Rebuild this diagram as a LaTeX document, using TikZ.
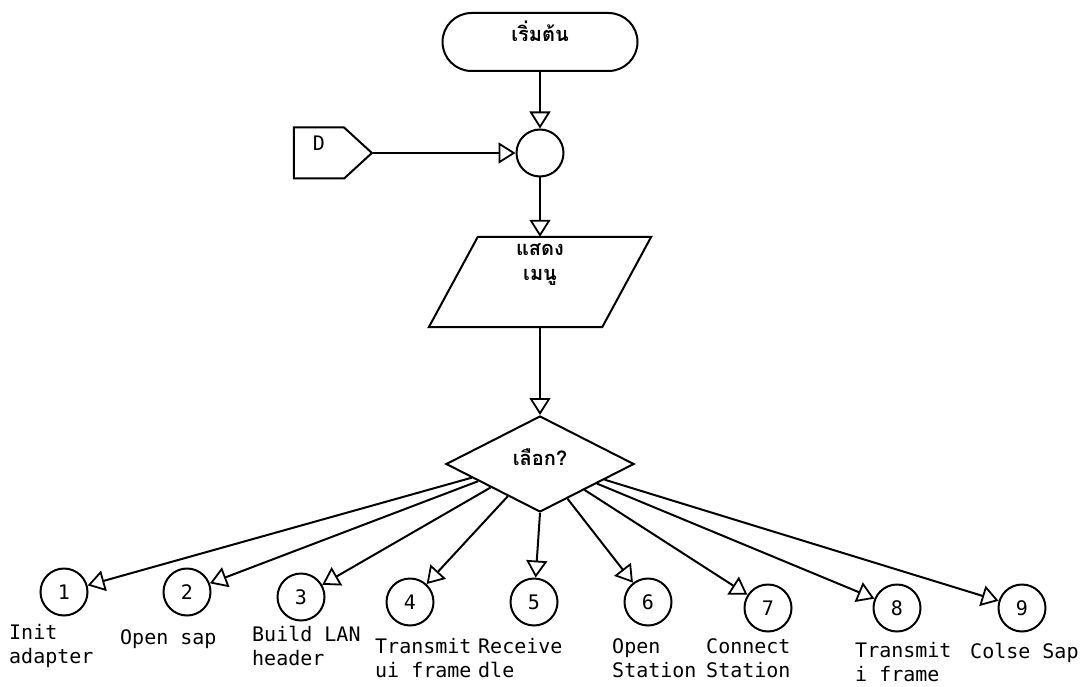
\documentclass[tikz,border=0pt]{standalone}
\usepackage{fontspec}
\setmainfont{DejaVu Sans Mono}
\newfontfamily\thaifont[Script=Thai]{Loma}
\usetikzlibrary{arrows.meta,shapes.geometric,shapes.symbols,calc}
\begin{document}
\begin{tikzpicture}[x=1pt,y=-1pt,
  every node/.style={font=\fontsize{20}{24}\selectfont, inner sep=0pt},
  ln/.style={line width=2pt},
  arr/.style={ln, -{Triangle[open, length=17pt, width=21pt, line width=1.8pt]}},
  term/.style={rectangle, rounded corners=29pt, draw, ln, minimum width=195pt, minimum height=58pt},
  sig/.style={signal, signal to=east, draw, ln, minimum width=78pt, minimum height=51pt, signal pointer angle=85},
  circ/.style={circle, draw, ln, minimum size=47pt},
  dia/.style={diamond, draw, ln, minimum width=188pt, minimum height=96pt},
  box/.style={rectangle, minimum width=173pt, minimum height=90pt},
  thai/.style={font=\thaifont\bfseries\fontsize{20}{25}\selectfont, align=center},
  lab/.style={anchor=west, align=left}
]
\useasboundingbox (0,0) rectangle (1083,687);

% top part
\node[term] (st) at (540,42) {};
\node[thai] (stt) at ([yshift=11pt]st.center) {เริ่มต้น};
\node[circ] (j) at (540,153) {};
\node[sig] (D) at (319,153) {};
\node (Dt) at ([yshift=10pt]D.center) {D};
\node[box] (m) at (540,282) {};
\draw[ln] ([xshift=24.5pt]m.north west) -- ([xshift=24.5pt]m.north east)
  -- ([xshift=-24.5pt]m.south east) -- ([xshift=-24.5pt]m.south west) -- cycle;
\node[thai] (mt) at ([yshift=17pt]m.center) {แสดง\\เมนู};
\node[dia] (d) at (540,464) {};
\node[thai] (dt) at ([yshift=7pt]d.center) {เลือก?};

\draw[arr] (st) -- (j);
\draw[arr] (D.east) -- (j);
\draw[arr] (j) -- (m.north);
\draw[arr] (m.south) -- (d.north);

% bottom circles
\node[circ] (c1) at (64,592) {1};
\node[circ] (c2) at (187,592) {2};
\node[circ] (c3) at (301,597) {3};
\node[circ] (c4) at (410,602) {4};
\node[circ] (c5) at (534,602) {5};
\node[circ] (c6) at (648,602) {6};
\node[circ] (c7) at (768,608) {7};
\node[circ] (c8) at (897,608) {8};
\node[circ] (c9) at (1022,608) {9};

\draw[arr] ($(d.west)!0.28!(d.south)$) -- (c1);
\draw[arr] ($(d.west)!0.35!(d.south)$) -- (c2);
\draw[arr] ($(d.west)!0.48!(d.south)$) -- (c3);
\draw[arr] ($(d.west)!0.66!(d.south)$) -- (c4);
\draw[arr] (d.south) -- (c5);
\draw[arr] ($(d.east)!0.71!(d.south)$) -- (c6);
\draw[arr] ($(d.east)!0.53!(d.south)$) -- (c7);
\draw[arr] ($(d.east)!0.40!(d.south)$) -- (c8);
\draw[arr] ($(d.east)!0.32!(d.south)$) -- (c9);

% labels
\node[lab] (l1) at (9,646) {Init\\adapter};
\node[lab] (l2) at (120,639) {Open sap};
\node[lab] (l3) at (252,646) {Build LAN\\header};
\node[lab] (l4) at (375,658) {Transmit\\ui frame};
\node[lab] (l5) at (478,658) {Receive\\dle};
\node[lab] (l6) at (612,658) {Open\\Station};
\node[lab] (l7) at (706,658) {Connect\\Station};
\node[lab] (l8) at (855,662) {Transmit\\i frame};
\node[lab] (l9) at (970,653) {Colse Sap};
\end{tikzpicture}
\end{document}
